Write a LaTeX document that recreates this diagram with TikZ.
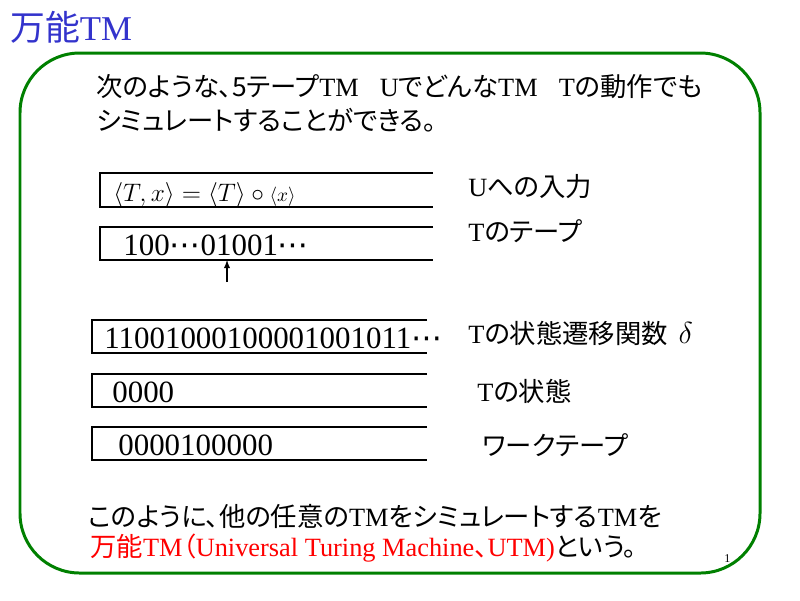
\documentclass[tikz,border=0pt]{standalone}
\usepackage{fontspec}
\setmainfont{Liberation Serif}
\newfontfamily\jp[RawFeature=+palt]{Noto Sans CJK JP}
\newfontfamily\sym{DejaVu Sans}
\definecolor{titleBlue}{RGB}{51,51,204}
\definecolor{frameGreen}{RGB}{0,128,0}
\definecolor{markRed}{RGB}{255,0,0}
\tikzset{
  body/.style={anchor=base west,inner sep=0pt,font=\fontsize{15pt}{18pt}\selectfont},
  tapetext/.style={anchor=base west,inner sep=0pt,font=\fontsize{17.6pt}{20pt}\selectfont},
  tapeline/.style={draw,line width=0.6pt},
}

\begin{document}
\begin{tikzpicture}[x=0.02cm,y=-0.02cm]
        \useasboundingbox (0,0) rectangle (800,600);
        \node[anchor=base west,inner sep=0pt,text=titleBlue,font=\fontsize{19.8pt}{22pt}\selectfont] (title) at (10,40) {{\jp 万能}TM};
        \draw[frameGreen,line width=1.7pt,rounded corners=34pt] (20,53) rectangle (760,573);
        \node[body] (introA) at (96,96) {{\jp 次のような、5テープ}TM\hspace{0.8em}U{\jp でどんな}TM\hspace{0.8em}T{\jp の動作でも}};
        \node[body] (introB) at (96,130) {{\jp シミュレートすることができる。}};
        \draw[tapeline] (433,173) -| (100,207) -- (433,207);
        \draw[tapeline] (433,227) -| (100,260) -- (433,260);
        \draw[tapeline] (427,320) -| (92,353) -- (427,353);
        \draw[tapeline] (427,374) -| (92,407) -- (427,407);
        \draw[tapeline] (427,427) -| (92,460) -- (427,460);
        \node[anchor=base west,inner sep=0pt,font=\fontsize{13.3pt}{16pt}\selectfont] (input) at (113,201) {$\langle T,x\rangle=\langle T\rangle\circ\mbox{\fontsize{10.5pt}{12pt}\selectfont$\langle x\rangle$}$};
        \node[tapetext] (tapeT) at (123,255) {100{\sym ⋯}01001{\sym ⋯}};
        \node[tapetext] (delta) at (104,348) {11001000100001001011{\sym ⋯}};
        \node[tapetext] (state) at (112,402) {0000};
        \node[tapetext] (work) at (118,455) {0000100000};
        \coordinate (head) at (227,260);
        \coordinate (foot) at (227,282);
        \draw[-latex,line width=0.6pt] (foot) -- (head);
        \node[body] (inputLbl) at (468,196) {U{\jp への入力}};
        \node[body] (tapeLbl) at (468,241) {T{\jp のテープ}};
        \node[body] (deltaLbl) at (468,343) {T{\jp の状態遷移関数}\hspace{0.4em}{\fontsize{18pt}{20pt}\selectfont$\delta$}};
        \node[body] (stateLbl) at (477,401) {T{\jp の状態}};
        \node[body] (workLbl) at (482,455) {{\jp ワークテープ}};
        \node[body] (sumA) at (88,526) {{\jp このように、他の任意の}TM{\jp をシミュレートする}TM{\jp を}};
        \node[body] (sumB) at (90,556) {\textcolor{markRed}{{\jp 万能}TM{\jp （}Universal Turing Machine{\jp 、}UTM)}{\jp という。}};
        \node[anchor=base west,inner sep=0pt,font=\fontsize{6.8pt}{8pt}\selectfont] (page) at (724,562) {1};
      \end{tikzpicture}
\end{document}
